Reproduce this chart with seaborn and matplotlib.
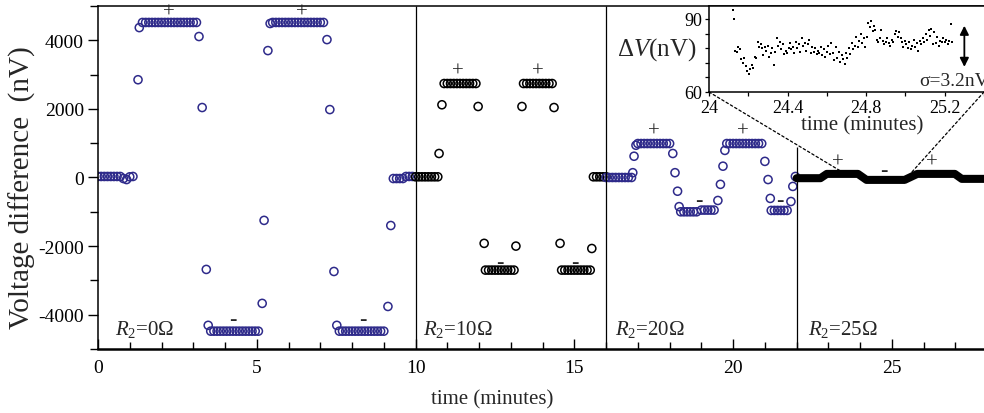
import numpy as np
import pandas as pd
import matplotlib
matplotlib.use("Agg")
import matplotlib.pyplot as plt
from matplotlib.patches import ConnectionPatch
from matplotlib.ticker import MultipleLocator, FixedLocator, FuncFormatter
import seaborn as sns

SAMPLE_DT = 0.1  # minutes between readings on a flat stretch

# ---- R2 = 0 ohm: flat stretches (start, end, level) and single readings
r0_flat_start = [0.0, 1.4, 3.55, 5.5, 7.6, 9.3, 9.7]
r0_flat_end = [0.7, 3.1, 5.05, 7.15, 9.05, 9.6, 9.9]
r0_flat_level = [30, 4520, -4480, 4520, -4480, -30, 30]
r0_step_t = [0.8, 0.9, 1.0, 1.1, 1.26, 1.30, 3.18, 3.28, 3.41, 3.47,
             5.17, 5.23, 5.35, 5.42, 7.21, 7.30, 7.43, 7.52, 9.13, 9.22]
r0_step_v = [-30, -60, 20, 30, 2850, 4370, 4110, 2040, -2680, -4310,
             -3670, -1250, 3700, 4490, 4020, 1980, -2740, -4310, -3760, -1400]

# ---- R2 = 10 ohm
r10_flat_start = [10.0, 10.9, 12.2, 13.4, 14.6, 15.6]
r10_flat_end = [10.7, 11.9, 13.1, 14.3, 15.5, 16.0]
r10_flat_level = [20, 2740, -2700, 2740, -2700, 20]
r10_step_t = [10.74, 10.83, 11.97, 12.16, 13.16, 13.35, 14.36, 14.55, 15.55]
r10_step_v = [700, 2120, 2070, -1920, -2000, 2070, 2040, -1920, -2070]

# ---- R2 = 20 ohm
r20_flat_start = [16.0, 17.0, 18.35, 19.0, 19.8, 21.2]
r20_flat_end = [16.8, 18.0, 18.9, 19.45, 20.9, 21.75]
r20_flat_level = [0, 990, -1000, -950, 990, -960]
r20_step_t = [16.84, 16.88, 16.94, 18.10, 18.17, 18.25, 18.30, 19.52, 19.60,
              19.68, 19.74, 21.00, 21.10, 21.17, 21.82, 21.88, 21.96]
r20_step_v = [140, 620, 940, 700, 140, -400, -850, -670, -200,
              330, 790, 470, -60, -610, -700, -260, 30]

# ---- R2 = 25 ohm: dense trace, given by its corner points
r25_t = [22.0, 22.75, 22.95, 23.93, 24.2, 25.4, 25.8, 26.98, 27.2, 27.95]
r25_v = [-20, -20, 105, 105, -70, -70, 105, 105, -40, -40]

# ---- zoomed readings (nV) of the R2 = 25 ohm run, starting at 24.12 min
inset_t0 = 24.12
inset_dt = 0.0075
inset_dv = [93.7, 90.0, 77.0, 76.5, 78.5, 77.5, 73.5, 72.0, 74.0, 70.5,
            68.5, 67.5, 69.5, 71.0, 70.0, 74.5, 74.0, 80.5, 78.5, 79.5,
            78.0, 75.0, 78.5, 77.0, 79.0, 74.5, 76.0, 78.0, 71.0, 76.5,
            82.0, 79.0, 80.5, 77.5, 79.5, 75.5, 77.0, 76.0, 78.0, 80.0,
            77.5, 78.5, 76.0, 80.5, 78.0, 79.5, 76.5, 82.0, 79.0, 80.0,
            77.0, 79.5, 81.5, 76.0, 78.5, 76.5, 78.0, 75.5, 77.0, 76.0,
            78.5, 75.0, 77.5, 74.5, 76.5, 79.0, 75.5, 80.0, 76.0, 73.0,
            78.5, 74.0, 76.5, 72.5, 75.0, 73.5, 71.5, 76.0, 74.0, 78.0,
            75.5, 80.0, 77.5, 79.0, 82.5, 78.5, 81.0, 84.0, 80.0, 82.0,
            78.5, 82.5, 88.5, 86.5, 89.0, 85.0, 87.0, 85.5, 81.5, 80.5,
            82.0, 85.5, 81.0, 79.5, 80.5, 82.0, 80.0, 79.0, 81.5, 80.5,
            84.0, 85.0, 82.5, 84.5, 82.0, 80.5, 78.5, 81.0, 79.5, 78.0,
            80.5, 77.5, 79.0, 81.5, 78.5, 80.0, 77.0, 81.0, 79.5, 82.0,
            80.5, 84.0, 81.5, 85.5, 83.0, 86.0, 79.5, 84.5, 80.0, 82.5,
            79.0, 81.0, 80.5, 82.0, 80.5, 81.5, 79.5, 81.0, 88.0, 80.5]

# section boundaries and labels
divider_t = [10, 16, 22]
divider_top = [5000, 5000, 900]
section_t = [0.54, 10.23, 16.28, 22.36]
section_names = [r"$R_2$=0Ω", r"$R_2$=10Ω", r"$R_2$=20Ω", r"$R_2$=25Ω"]
plus_t = [2.24, 6.42, 11.33, 13.85, 17.5, 20.3, 23.3, 26.26]
plus_v = [4810, 4810, 3090, 3090, 1340, 1340, 440, 440]
minus_t = [4.25, 8.34, 12.66, 15.02, 18.92, 21.47, 24.75]
minus_v = [-4140, -4140, -2450, -2450, -670, -670, 230]
zoom_src_t = [23.4, 25.6]
zoom_src_v = [180, 130]


def build_run(flat_start, flat_end, flat_level, step_t, step_v):
    ts, vs = [], []
    for a, b, lvl in zip(flat_start, flat_end, flat_level):
        t = np.arange(a, b + 1e-6, SAMPLE_DT)
        ts.append(t)
        vs.append(np.full(t.size, lvl, dtype=float))
    ts.append(np.asarray(step_t, float))
    vs.append(np.asarray(step_v, float))
    df = pd.DataFrame({"t": np.concatenate(ts), "v": np.concatenate(vs)})
    return df.sort_values("t").reset_index(drop=True)


run0 = build_run(r0_flat_start, r0_flat_end, r0_flat_level, r0_step_t, r0_step_v)
run10 = build_run(r10_flat_start, r10_flat_end, r10_flat_level, r10_step_t, r10_step_v)
run20 = build_run(r20_flat_start, r20_flat_end, r20_flat_level, r20_step_t, r20_step_v)
run25 = pd.DataFrame({"t": r25_t, "v": r25_v})
inset_df = pd.DataFrame({"t": inset_t0 + inset_dt * np.arange(len(inset_dv)),
                         "dv": inset_dv})

sns.set_theme(style="ticks")
plt.rcParams.update({
    "font.family": ["Liberation Serif", "DejaVu Serif"],
    "mathtext.fontset": "custom",
    "mathtext.rm": "Liberation Serif",
    "mathtext.it": "Liberation Serif:italic",
    "axes.unicode_minus": False,
    "axes.edgecolor": "black",
    "xtick.color": "black",
    "ytick.color": "black",
})

BLUE = "#2e2a8a"
fig = plt.figure(figsize=(9.84, 4.14), dpi=100)
ax = fig.add_axes([0.0996, 0.1546, 0.9004, 0.8285])

circle_kw = dict(s=34, marker="o", facecolor="none", linewidth=1.1, legend=False)
sns.scatterplot(data=run0, x="t", y="v", ax=ax, edgecolor=BLUE, **circle_kw)
sns.scatterplot(data=run10, x="t", y="v", ax=ax, edgecolor="black", **circle_kw)
sns.scatterplot(data=run20, x="t", y="v", ax=ax, edgecolor=BLUE, **circle_kw)
sns.lineplot(data=run25, x="t", y="v", ax=ax, estimator=None, sort=False,
             color="black", linewidth=5.8, solid_capstyle="round",
             solid_joinstyle="round")

ax.vlines(divider_t, -5000, divider_top, color="black", linewidth=0.9)

for t, name in zip(section_t, section_names):
    ax.text(t, -4550, name, fontsize=15, ha="left", va="baseline")
for t, v in zip(plus_t, plus_v):
    ax.text(t, v, "+", fontsize=15, ha="center", va="center", color="#222222")
for t, v in zip(minus_t, minus_v):
    ax.text(t, v, "-", fontsize=16, fontweight="bold", ha="center", va="center")

ax.set_xlim(0, 27.9)
ax.set_ylim(-5000, 5000)
ax.set_xlabel("")
ax.set_ylabel("")
ax.xaxis.set_major_locator(MultipleLocator(5))
ax.xaxis.set_minor_locator(MultipleLocator(1))
ax.yaxis.set_major_locator(MultipleLocator(2000))
ax.yaxis.set_minor_locator(MultipleLocator(1000))
ax.tick_params(axis="x", which="major", direction="in", length=7, width=1.0,
               labelsize=14, pad=7)
ax.tick_params(axis="x", which="minor", direction="in", length=5, width=1.0)
ax.tick_params(axis="y", which="major", direction="out", length=7, width=1.0,
               labelsize=14, pad=3)
ax.tick_params(axis="y", which="minor", direction="out", length=6, width=1.0)
ax.spines["right"].set_visible(False)
ax.spines["bottom"].set_linewidth(1.8)
ax.spines["left"].set_linewidth(1.1)
ax.spines["top"].set_linewidth(1.1)

fig.text(22 / 984, 1 - 188 / 414, "Voltage difference  (nV)", rotation=90,
         ha="center", va="center", fontsize=21)
fig.text(492 / 984, 1 - 400 / 414, "time (minutes)", ha="center", va="center",
         fontsize=15)

# zoomed view of the 25 ohm trace
ax_in = fig.add_axes([0.7205, 0.7754, 0.2795, 0.2077])
ax_in.set_facecolor("white")
sns.scatterplot(data=inset_df, x="t", y="dv", ax=ax_in, s=3, marker="s",
                color="black", linewidth=0, legend=False)
ax_in.set_xlim(24, 25.4)
ax_in.set_ylim(60, 95.3)
ax_in.set_xlabel("")
ax_in.set_ylabel("")
ax_in.xaxis.set_major_locator(FixedLocator([24, 24.4, 24.8, 25.2]))
ax_in.xaxis.set_minor_locator(FixedLocator([24.2, 24.6, 25.0, 25.4]))
ax_in.xaxis.set_major_formatter(FuncFormatter(lambda v, _: f"{v:g}"))
ax_in.yaxis.set_major_locator(FixedLocator([60, 90]))
ax_in.yaxis.set_minor_locator(FixedLocator([66, 72, 78, 84]))
ax_in.tick_params(which="both", direction="out", length=3, width=0.9,
                  labelsize=13, pad=2)
ax_in.spines["right"].set_visible(False)
for side in ("left", "bottom", "top"):
    ax_in.spines[side].set_linewidth(1.1)
ax_in.text(-0.045, 0.5, r"$\Delta V$(nV)", transform=ax_in.transAxes,
           ha="right", va="center", fontsize=18)
ax_in.text(0.765, 0.13, "σ=3.2nV", transform=ax_in.transAxes,
           ha="left", va="center", fontsize=14)
ax_in.annotate("", xy=(25.3, 70.3), xytext=(25.3, 87.2),
               arrowprops=dict(arrowstyle="<|-|>", color="black", lw=1.3,
                               mutation_scale=13, shrinkA=0, shrinkB=0))
fig.text(862 / 984, 1 - 126 / 414, "time (minutes)", ha="center", va="center",
         fontsize=15)

for corner, t, v in zip([(0, 0), (1, 0)], zoom_src_t, zoom_src_v):
    con = ConnectionPatch(xyA=corner, coordsA=ax_in.transAxes, xyB=(t, v),
                          coordsB=ax.transData, linestyle=(0, (2, 2)),
                          linewidth=0.9, color="black")
    fig.add_artist(con)

fig.savefig("out.png", dpi=100)
